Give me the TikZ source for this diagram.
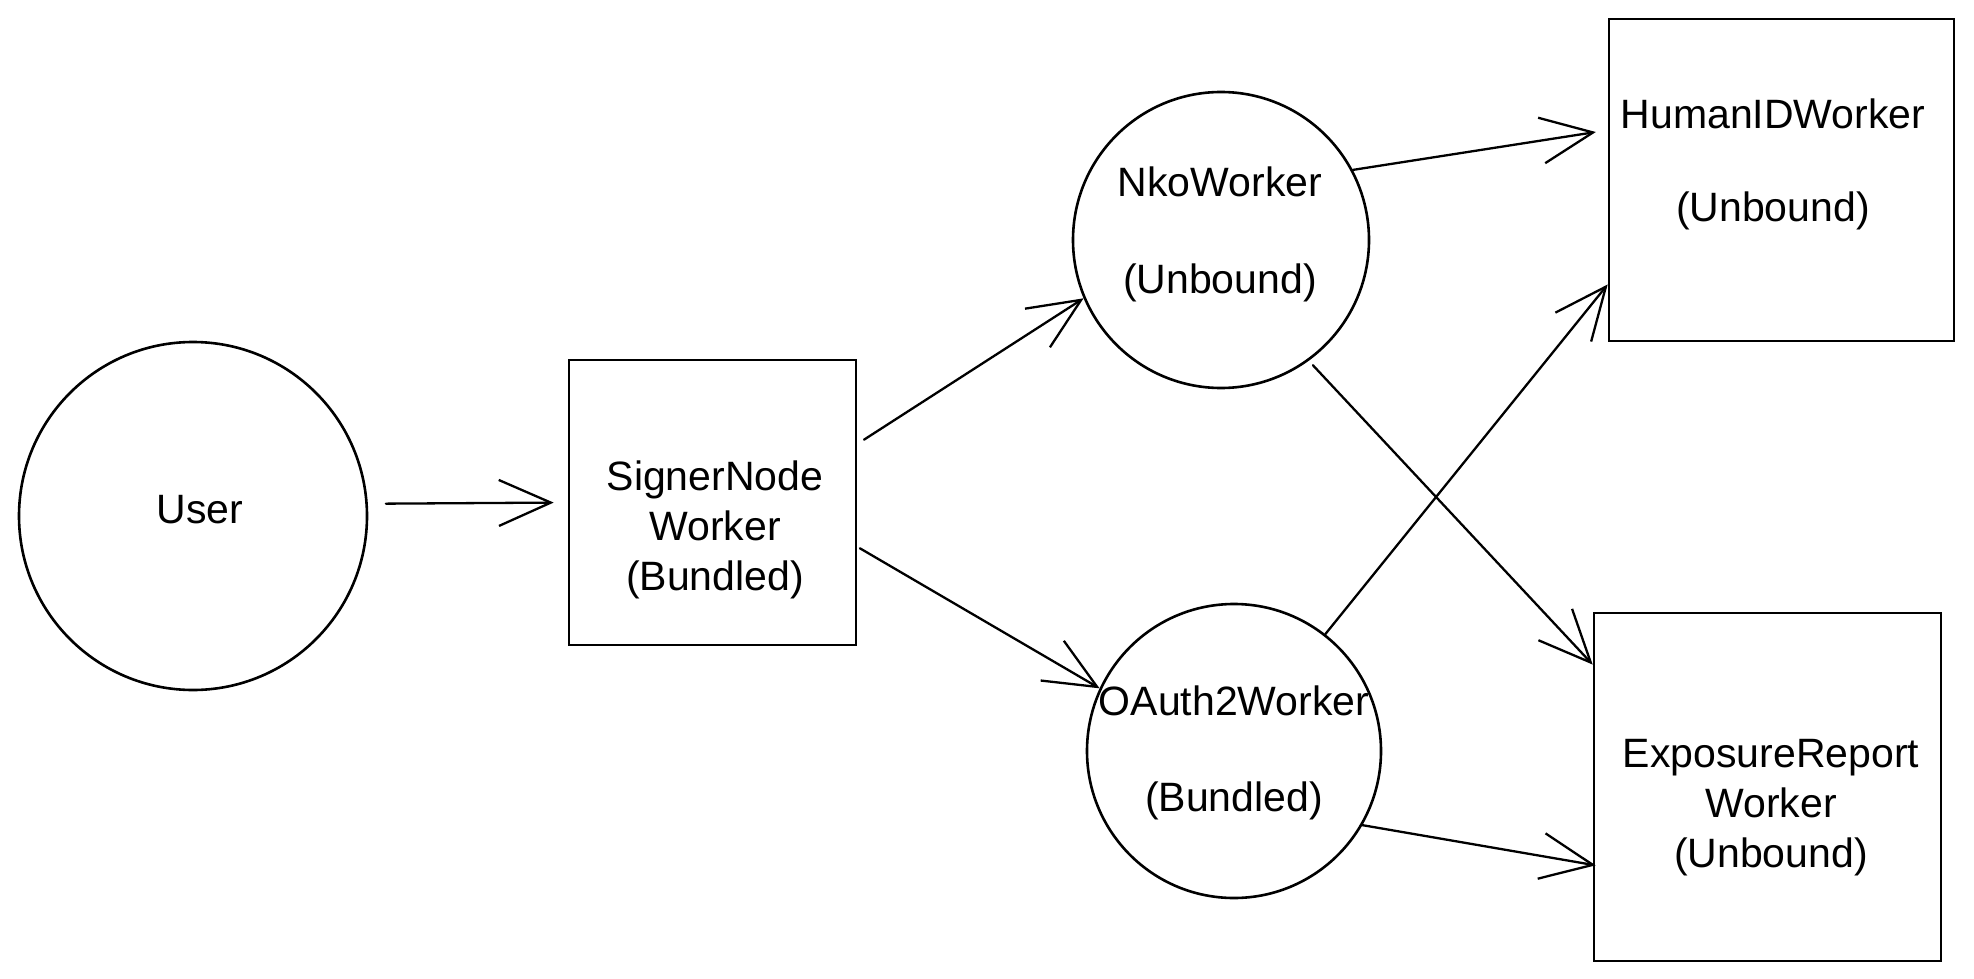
\documentclass[tikz,border=0pt]{standalone}
\usepackage{fontspec}
\setmainfont{Liberation Sans}
\usetikzlibrary{arrows.meta}
\begin{document}
\begin{tikzpicture}[x=1pt,y=-1pt,
  shapeline/.style={draw=black, line width=2.6pt},
  circ/.style={shapeline, circle, minimum size=#1, inner sep=0pt},
  boxnode/.style 2 args={shapeline, rectangle, minimum width=#1, minimum height=#2, inner sep=0pt},
  lbl/.style={font=\fontsize{41pt}{50pt}\selectfont, align=center, inner sep=0pt},
  conn/.style={line width=2.3pt, line cap=round, -{Straight Barb[length=52pt,width=46pt,line width=2.3pt]}}
]
\fill[white] (0,0) rectangle (1974,979);
\useasboundingbox (0,0) rectangle (1974,979);

% shapes
\node[circ=348] (user) at (193,516) {};
\node[boxnode={287}{285}] (signer) at (712.5,502.5) {};
\node[circ=296] (nko) at (1221,240) {};
\node[circ=294] (oauth) at (1234,751) {};
\node[boxnode={345}{322}] (humanid) at (1781.5,180) {};
\node[boxnode={347}{348}] (exposure) at (1767.5,787) {};

% labels
\node[lbl] (userlbl) at (200,510) {User};
\node[lbl] (signerlbl) at (715,530) {SignerNode\\Worker\\(Bundled)};
\node[lbl] (nkolbl) at (1220,234) {NkoWorker\\[47pt](Unbound)};
\node[lbl] (oauthlbl) at (1234,753) {OAuth2Worker\\[46pt](Bundled)};
\node[lbl] (humanidlbl) at (1773,164) {HumanIDWorker\\[43pt](Unbound)};
\node[lbl] (exposurelbl) at (1771,808) {ExposureReport\\Worker\\(Unbound)};

% connectors
\draw[conn, shorten <=18pt, shorten >=14pt] (user.4) -- (signer.west);
\draw[conn, shorten <=8pt] (signer.22) -- (nko.203);
\draw[conn, shorten <=3pt] (signer.-17) -- (oauth.155);
\draw[conn, shorten >=12pt] (nko.28) -- (humanid.164.3);
\draw[conn, shorten <=6pt] (nko.-54) -- (exposure.145.3);
\draw[conn] (oauth.52) -- (humanid.211.5);
\draw[conn, shorten >=-3pt] (oauth.-30.5) -- (exposure.204.6);
\end{tikzpicture}
\end{document}
